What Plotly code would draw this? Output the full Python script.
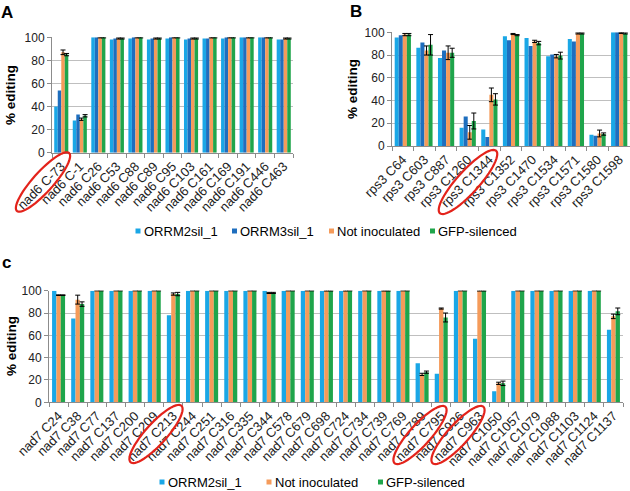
import numpy as np
import plotly.graph_objects as go

W, H = 630, 491

# ---------------- data ----------------
cats_a = ["nad6 C-73", "nad6 C-1", "nad6 C26", "nad6 C53", "nad6 C88", "nad6 C89", "nad6 C95",
          "nad6 C103", "nad6 C161", "nad6 C169", "nad6 C191", "nad6 C446", "nad6 C463"]
a_orrm2 = [40, 28, 100, 98, 99, 98, 99, 98, 99, 99, 100, 100, 98]
a_orrm3 = [54, 33, 100, 99, 100, 99, 100, 99, 99, 100, 100, 100, 98]
a_noninoc = [87, 29, 100, 99, 100, 99, 100, 99, 100, 100, 100, 100, 99]
a_gfp = [85, 32, 100, 99, 100, 99, 100, 99, 100, 100, 100, 100, 99]
a_noninoc_err = [2, 1, 0.5, 0.5, 0.5, 0.5, 0.5, 0.5, 0.5, 0.5, 0.5, 0.5, 0.5]
a_gfp_err = [1, 1, 0.5, 0.5, 0.5, 0.5, 0.5, 0.5, 0.5, 0.5, 0.5, 0.5, 0.5]

cats_b = ["rps3 C64", "rps3 C603", "rps3 C887", "rps3 C1260", "rps3 C1344", "rps3 C1352",
          "rps3 C1470", "rps3 C1534", "rps3 C1571", "rps3 C1580", "rps3 C1598"]
b_orrm2 = [95.5, 86.5, 77.5, 16, 14.5, 96.5, 95, 79, 94, 10, 100]
b_orrm3 = [97.5, 91, 84, 26, 8, 93, 88, 80.5, 92, 9, 100]
b_noninoc = [98, 84, 82, 12, 45, 98.5, 92, 79, 99, 11, 99.5]
b_gfp = [98, 89, 82, 22, 41, 97.5, 90.5, 79.5, 99, 10.5, 99]
b_noninoc_err = [1, 4, 6, 6, 6, 0.5, 1, 1.5, 0.5, 3, 0.5]
b_gfp_err = [1, 9, 4, 7, 5, 0.5, 1.5, 3, 0.5, 1, 0.5]

cats_c = ["nad7 C24", "nad7 C38", "nad7 C77", "nad7 C137", "nad7 C200", "nad7 C209", "nad7 C213",
          "nad7 C244", "nad7 C251", "nad7 C316", "nad7 C335", "nad7 C344", "nad7 C578", "nad7 C679",
          "nad7 C698", "nad7 C724", "nad7 C734", "nad7 C739", "nad7 C769", "nad7 C789", "nad7 C795",
          "nad7 C926", "nad7 C963", "nad7 C1050", "nad7 C1057", "nad7 C1079", "nad7 C1088",
          "nad7 C1103", "nad7 C1124", "nad7 C1137"]
c_orrm2 = [100, 75, 100, 100, 100, 100, 78, 100, 100, 100, 100, 100, 100, 100, 100, 100, 100, 100, 100,
           35, 25.5, 100, 57, 10, 100, 100, 100, 100, 100, 65]
c_noninoc = [96, 92, 100, 100, 100, 100, 97, 100, 100, 100, 100, 98, 100, 100, 100, 100, 100, 100, 100,
             25, 84, 100, 100, 17, 100, 100, 100, 100, 100, 77]
c_gfp = [96, 88, 100, 100, 100, 100, 97, 100, 100, 100, 100, 98, 100, 100, 100, 100, 100, 100, 100,
         27, 76, 100, 100, 17, 100, 100, 100, 100, 100, 81.5]
c_noninoc_err = [0.3, 4, None, None, None, None, 1, None, None, None, None, 0.5, None, None,
                 0.3, 0.3, None, 0.3, None, 1, 0.5, None, 0.3, 1, None, None, None, None, None, 2]
c_gfp_err = [0.3, 2, None, None, None, None, 1.5, None, None, None, None, 0.5, None, None,
             0.3, None, None, 0.3, None, 1, 4, None, 0.3, 2, None, None, None, None, None, 3]

series_names = ["ORRM2sil_1", "ORRM3sil_1", "Not inoculated", "GFP-silenced"]
colors = {"ORRM2sil_1": "#1AA7E6", "ORRM3sil_1": "#1E6EBE",
          "Not inoculated": "#F59B5A", "GFP-silenced": "#1FA54B"}

FONT = "Liberation Sans, Arial, sans-serif"
fig = go.Figure()


def add_group(cats, series, errs, xa, ya, group_w):
    n = len(series)
    bw = group_w / n
    for i, (name, vals) in enumerate(series):
        err = errs.get(name)
        kw = {}
        if err is not None:
            kw["error_y"] = dict(type="data", array=err, visible=True, color="black",
                                 thickness=1, width=2.5)
        fig.add_trace(go.Bar(x=cats, y=vals, name=name, marker_color=colors[name],
                             marker_line_width=0, width=bw, offset=-group_w / 2 + i * bw,
                             xaxis=xa, yaxis=ya, showlegend=False, **kw))


add_group(cats_a, [("ORRM2sil_1", a_orrm2), ("ORRM3sil_1", a_orrm3),
                   ("Not inoculated", a_noninoc), ("GFP-silenced", a_gfp)],
          {"Not inoculated": a_noninoc_err, "GFP-silenced": a_gfp_err}, "x", "y", 0.76)
add_group(cats_b, [("ORRM2sil_1", b_orrm2), ("ORRM3sil_1", b_orrm3),
                   ("Not inoculated", b_noninoc), ("GFP-silenced", b_gfp)],
          {"Not inoculated": b_noninoc_err, "GFP-silenced": b_gfp_err}, "x2", "y2", 0.75)
add_group(cats_c, [("ORRM2sil_1", c_orrm2), ("Not inoculated", c_noninoc), ("GFP-silenced", c_gfp)],
          {"Not inoculated": c_noninoc_err, "GFP-silenced": c_gfp_err}, "x3", "y3", 0.68)


def px(x):
    return x / W


def py(y):
    return 1 - y / H


# panel pixel boxes: (left, right, bottom(0), top(100))
boxes = {"A": (52, 293, 152.7, 37.3), "B": (392, 631, 146, 32.3), "C": (49, 623, 402.3, 290.7)}

grid_col = "#BFBFBF"
axis_col = "#8C8C8C"
ytickfont = dict(family=FONT, size=12, color="#222")
xtickfont = dict(family=FONT, size=13, color="#222")


def xaxis_cfg(box, anchor):
    l, r, b, t = box
    return dict(domain=[px(l), min(px(r), 1.0)], anchor=anchor, type="category",
                tickangle=-45, tickfont=xtickfont, showline=True, linecolor=axis_col,
                linewidth=1, ticks="outside", tickson="boundaries", ticklen=4,
                tickcolor=axis_col, showgrid=False, zeroline=False, fixedrange=True,
                automargin=False)


def yaxis_cfg(box, anchor):
    l, r, b, t = box
    return dict(domain=[py(b), py(t)], anchor=anchor, range=[0, 100], dtick=20,
                tickfont=ytickfont, showline=True, linecolor=axis_col, linewidth=1,
                ticks="outside", ticklen=4, tickcolor=axis_col, showgrid=True,
                gridcolor=grid_col, gridwidth=1, zeroline=False, fixedrange=True,
                automargin=False)


fig.update_layout(
    width=W, height=H, margin=dict(l=0, r=0, t=0, b=0, autoexpand=False),
    paper_bgcolor="white", plot_bgcolor="white", showlegend=False,
    font=dict(family=FONT, size=12, color="#222"),
    xaxis=xaxis_cfg(boxes["A"], "y"), yaxis=yaxis_cfg(boxes["A"], "x"),
    xaxis2=xaxis_cfg(boxes["B"], "y2"), yaxis2=yaxis_cfg(boxes["B"], "x2"),
    xaxis3=xaxis_cfg(boxes["C"], "y3"), yaxis3=yaxis_cfg(boxes["C"], "x3"),
)

annotations = []
shapes = []

# panel letters
for txt, (x, y) in {"A": (7, 13), "B": (356, 11), "c": (6, 262)}.items():
    annotations.append(dict(text=f"<b>{txt}</b>", x=px(x), y=py(y), xref="paper", yref="paper",
                            showarrow=False, xanchor="center", yanchor="middle",
                            font=dict(family=FONT, size=17, color="black")))

# y titles
for (x, y) in [(11, 95), (352, 89), (11, 346)]:
    annotations.append(dict(text="<b>% editing</b>", x=px(x), y=py(y), xref="paper", yref="paper",
                            showarrow=False, textangle=-90, xanchor="center", yanchor="middle",
                            font=dict(family=FONT, size=13.5, color="black")))

# custom legends (square + text)
def legend_item(sq_x, y, name):
    shapes.append(dict(type="rect", xref="paper", yref="paper",
                       x0=px(sq_x - 2.5), x1=px(sq_x + 2.5), y0=py(y + 2.5), y1=py(y - 2.5),
                       fillcolor=colors[name], line=dict(width=0)))
    annotations.append(dict(text=name, x=px(sq_x + 3.5), y=py(y), xref="paper", yref="paper",
                            showarrow=False, xanchor="left", yanchor="middle",
                            font=dict(family=FONT, size=13, color="black")))


for sx, nm in [(138, "ORRM2sil_1"), (234.5, "ORRM3sil_1"), (331.5, "Not inoculated"),
               (432.5, "GFP-silenced")]:
    legend_item(sx, 231, nm)
for sx, nm in [(162, "ORRM2sil_1"), (269, "Not inoculated"), (380.5, "GFP-silenced")]:
    legend_item(sx, 482, nm)


# red ellipses highlighting labels
def ellipse(cx, cy, a, b, ang_deg):
    t = np.linspace(0, 2 * np.pi, 60)
    th = np.deg2rad(ang_deg)
    xs = cx + a * np.cos(t) * np.cos(th) - b * np.sin(t) * np.sin(th)
    ys = cy - (a * np.cos(t) * np.sin(th) + b * np.sin(t) * np.cos(th))
    pts = [f"{px(x):.5f},{py(y):.5f}" for x, y in zip(xs, ys)]
    return "M " + " L ".join(pts) + " Z"


for (cx, cy, a, b) in [(43, 182, 39, 10), (468, 182, 42, 11), (156, 434, 38, 10.5),
                       (420, 435, 38, 10.5), (458, 435, 38, 10.5)]:
    shapes.append(dict(type="path", xref="paper", yref="paper", path=ellipse(cx, cy, a, b, 48),
                       line=dict(color="#E3231B", width=2.2)))

fig.update_layout(annotations=annotations, shapes=shapes)
fig.write_html("out.html", config={"displayModeBar": False},
               post_script="document.body.style.margin='0';document.body.style.overflow='hidden';")
